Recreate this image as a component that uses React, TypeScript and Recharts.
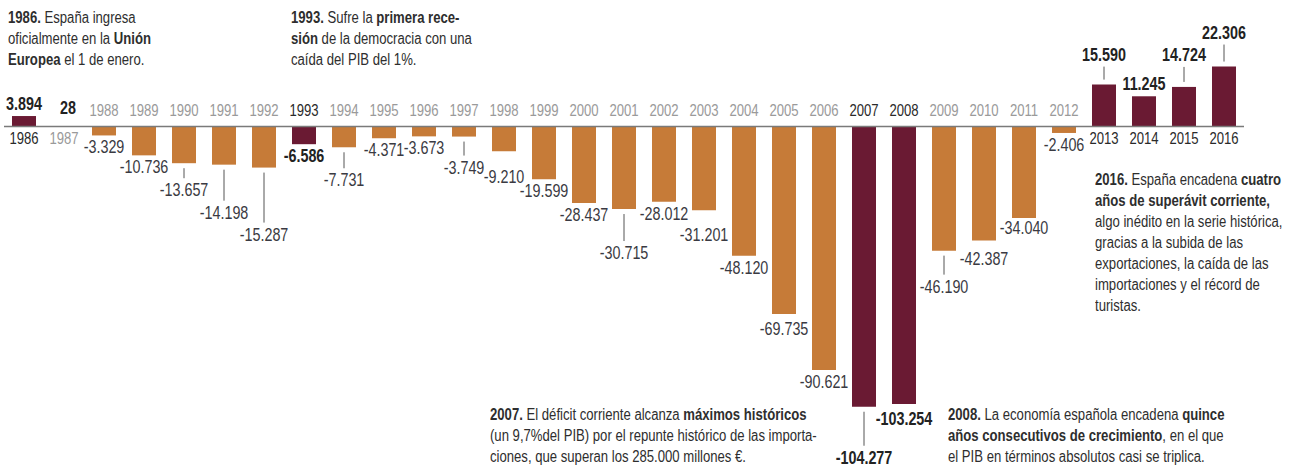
import React from "react"
import { BarChart, Bar, XAxis, YAxis, Cell, LabelList, ReferenceLine } from "recharts"

// saldo por cuenta corriente, millones de euros
const years = [
  1986, 1987, 1988, 1989, 1990, 1991, 1992, 1993, 1994, 1995, 1996, 1997, 1998, 1999, 2000, 2001,
  2002, 2003, 2004, 2005, 2006, 2007, 2008, 2009, 2010, 2011, 2012, 2013, 2014, 2015, 2016,
]
const balance = [
  3894, 28, -3329, -10736, -13657, -14198, -15287, -6586, -7731, -4371, -3673, -3749, -9210, -19599,
  -28437, -30715, -28012, -31201, -48120, -69735, -90621, -104277, -103254, -46190, -42387, -34040,
  -2406, 15590, 11245, 14724, 22306,
]
const highlightYears = [1986, 1993, 2007, 2008, 2013, 2014, 2015, 2016]

const data = years.map((year, i) => ({ year, value: balance[i] }))

// no narrow font installed: Liberation Sans squeezed horizontally, like Arial Narrow
const FONT = '"Liberation Sans", Arial, sans-serif'
const SQUEEZE = 0.82
const ORANGE = "#c67b38"
const MAROON = "#6a1a33"

// distance from bar end to the label centre
const labelDrop: Record<number, number> = {
  1987: 18, 1990: 27, 1991: 48, 1992: 67, 1994: 33, 1997: 31, 1998: 26, 2001: 44, 2003: 25,
  2005: 15, 2007: 51, 2008: 15, 2009: 36, 2010: 19, 2011: 10, 2013: 30, 2015: 32, 2016: 34,
}
const withLeader = [1990, 1991, 1992, 1994, 1997, 2001, 2007, 2009, 2013, 2015, 2016]

const fmt = (v: number) => {
  const s = Math.abs(v).toString().replace(/\B(?=(\d{3})+(?!\d))/g, ".")
  return (v < 0 ? "-" : "") + s
}

const NarrowText = ({ x, y, children, ...rest }: any) => (
  <text
    transform={`translate(${x},${y}) scale(${SQUEEZE},1)`}
    textAnchor="middle"
    dominantBaseline="central"
    fontFamily={FONT}
    {...rest}
  >
    {children}
  </text>
)

const renderLabels = (props: any) => {
  const vb = props.viewBox ?? props
  const { x, y, width, height } = vb
  const index = props.index ?? balance.indexOf(props.value)
  const year = years[index]
  const v = balance[index]
  const hi = highlightYears.includes(year)
  const top = Math.min(y, y + height)
  const bot = Math.max(y, y + height)
  const cx = x + width / 2
  const neg = v < 0
  const base = neg ? top : bot
  const end = neg ? bot : top
  const drop = labelDrop[year] ?? 12
  const dir = neg ? 1 : -1
  const ly = end + dir * drop
  const leader = withLeader.includes(year)
  const yearY = neg ? base - 16 : base + 12
  const darkValue = hi || year === 1987
  return (
    <g key={`lbl-${year}`}>
      {leader && (
        <line x1={cx} x2={cx} y1={end + dir * 5} y2={ly - dir * 12} stroke="#555" strokeWidth={1} />
      )}
      <NarrowText
        x={year === 1987 ? cx + 4 : cx}
        y={ly}
        fontSize={17.5}
        fontWeight={darkValue ? 700 : 400}
        fill={darkValue ? "#222" : "#3a3a42"}
      >
        {fmt(v)}
      </NarrowText>
      <NarrowText x={cx} y={yearY} fontSize={16} fill={hi ? "#2a2a2a" : "#9a9a9a"}>
        {year}
      </NarrowText>
    </g>
  )
}

const note: React.CSSProperties = {
  position: "absolute",
  fontFamily: FONT,
  fontSize: 16,
  lineHeight: "21px",
  color: "#2e2e2e",
  whiteSpace: "nowrap",
  transform: `scaleX(${SQUEEZE})`,
  transformOrigin: "left top",
}

export default function App() {
  return (
    <div style={{ position: "absolute", left: 0, top: 0, width: 1295, height: 472, background: "#fff" }}>
      <BarChart
        width={1295}
        height={472}
        data={data}
        margin={{ top: 19, right: 51, bottom: 23, left: 4 }}
      >
        <XAxis dataKey="year" hide />
        <YAxis hide domain={[-120000, 40000]} />
        <ReferenceLine y={0} stroke="#7a7a7a" strokeWidth={1.5} />
        <Bar dataKey="value" barSize={24} isAnimationActive={false}>
          {data.map((d) => (
            <Cell key={d.year} fill={highlightYears.includes(d.year) ? MAROON : ORANGE} />
          ))}
          <LabelList dataKey="value" content={renderLabels} />
        </Bar>
      </BarChart>

      <div style={{ ...note, left: 8, top: 7 }}>
        <b>1986.</b> España ingresa
        <br />
        oficialmente en la <b>Unión</b>
        <br />
        <b>Europea</b> el 1 de enero.
      </div>
      <div style={{ ...note, left: 291, top: 7 }}>
        <b>1993.</b> Sufre la <b>primera rece-</b>
        <br />
        <b>sión</b> de la democracia con una
        <br />
        caída del PIB del 1%.
      </div>
      <div style={{ ...note, left: 1095, top: 169 }}>
        <b>2016.</b> España encadena <b>cuatro</b>
        <br />
        <b>años de superávit corriente,</b>
        <br />
        algo inédito en la serie histórica,
        <br />
        gracias a la subida de las
        <br />
        exportaciones, la caída de las
        <br />
        importaciones y el récord de
        <br />
        turistas.
      </div>
      <div style={{ ...note, left: 490, top: 404 }}>
        <b>2007.</b> El déficit corriente alcanza <b>máximos históricos</b>
        <br />
        (un 9,7%del PIB) por el repunte histórico de las importa-
        <br />
        ciones, que superan los 285.000 millones €.
      </div>
      <div style={{ ...note, left: 948, top: 404 }}>
        <b>2008.</b> La economía española encadena <b>quince</b>
        <br />
        <b>años consecutivos de crecimiento</b>, en el que
        <br />
        el PIB en términos absolutos casi se triplica.
      </div>
    </div>
  )
}
